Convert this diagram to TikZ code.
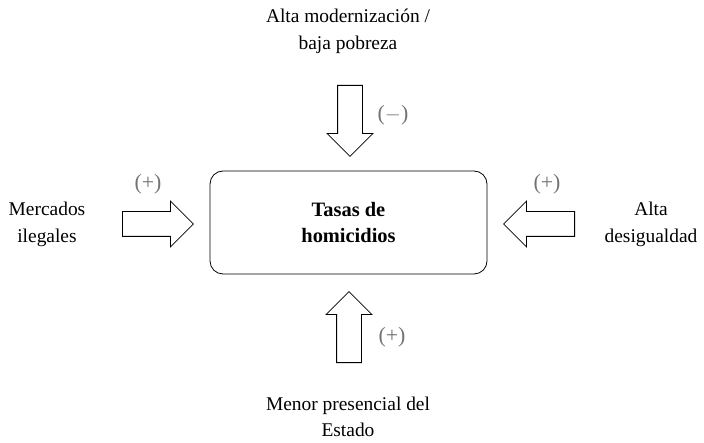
\documentclass[tikz,border=0pt]{standalone}
\usepackage{fontspec}
\setmainfont{Liberation Serif}
\usepackage{tikz}
\usetikzlibrary{shapes.arrows}

\tikzset{
  flecha/.style={single arrow, draw, line width=0.8pt, inner sep=12bp,
    minimum width=45bp, single arrow head extend=10.5bp,
    text height=0pt, text depth=0pt, text width=0pt,
    minimum height=71bp, anchor=tail},
  signo/.style={text=black!55, font=\fontsize{22}{26}\selectfont},
  causa/.style={align=center}
}

\begin{document}
\begin{tikzpicture}[x=1bp,y=-1bp,font=\fontsize{19.5}{27}\selectfont]
		\useasboundingbox (0,0) rectangle (704,443);
		%
		\node[draw, rounded corners=13bp, line width=0.8pt, minimum width=277bp,
		  minimum height=103bp, align=center, font=\fontsize{20.5}{25.5}\selectfont\bfseries]
		  (tasas) at (348.5,222.5) {Tasas de\\homicidios};
		%
		\node[causa] (moder) at (348,31) {Alta modernización /\\baja pobreza};
		\node[causa] (merc) at (47,224) {Mercados\\ilegales};
		\node[causa] (desig) at (651,224) {Alta\\desigualdad};
		\node[causa, font=\fontsize{19.5}{25.5}\selectfont] (estado) at (348,417) {Menor presencial del\\Estado};
		%
		\node[flecha, shape border rotate=270] (fa) at (350,85) {};
		\node[flecha] (fb) at (122,224) {};
		\node[flecha, shape border rotate=180] (fc) at (575,224) {};
		\node[flecha, shape border rotate=90] (fd) at (349,363) {};
		%
		\node[signo] at (393,115) {($-$)};
		\node[signo] at (148,184) {(+)};
		\node[signo] at (547,184) {(+)};
		\node[signo] at (392,337) {(+)};
\end{tikzpicture}
\end{document}
